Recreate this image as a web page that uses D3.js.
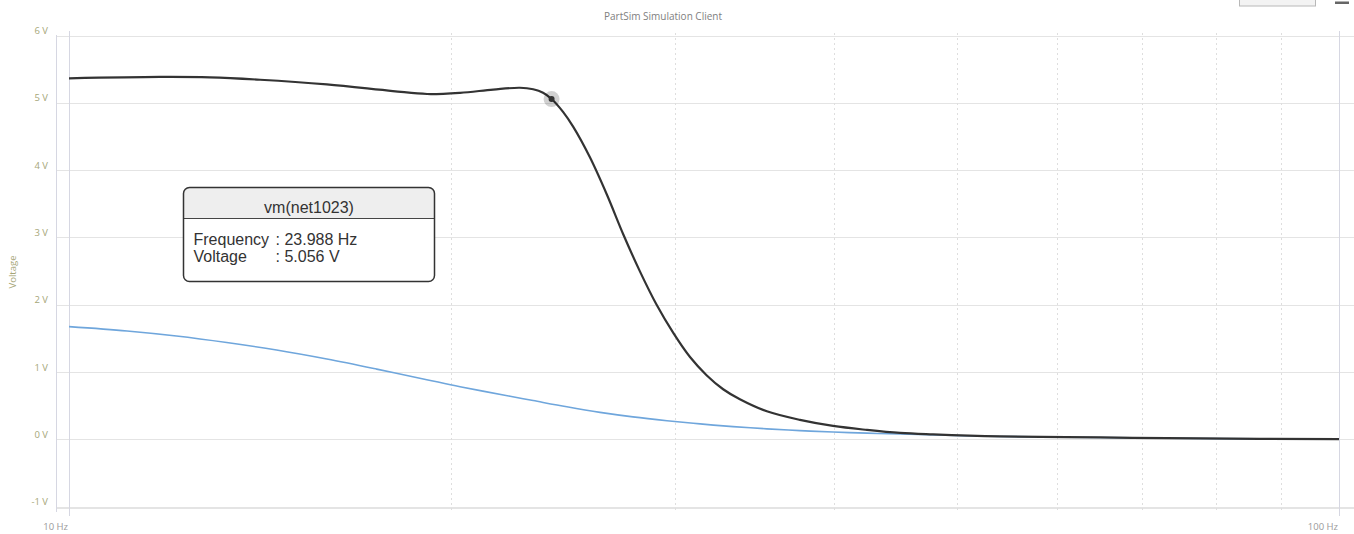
<!DOCTYPE html>
<html>
<head>
<meta charset="utf-8">
<script src="https://cdn.jsdelivr.net/npm/d3@7"></script>
<style>
  html, body { margin: 0; padding: 0; background: #ffffff; }
  svg { display: block; }
</style>
</head>
<body>
<svg id="chart" width="1354" height="534"></svg>
<script>
// ---------------- DATA ----------------
const chartTitle = "PartSim Simulation Client";
const yAxisTitle = "Voltage";

const yTickValues = [-1, 0, 1, 2, 3, 4, 5, 6];
const yTickLabels = ["-1 V", "0 V", "1 V", "2 V", "3 V", "4 V", "5 V", "6 V"];

const xMajorValues = [10, 100];
const xMajorLabels = ["10 Hz", "100 Hz"];
const xMinorValues = [20, 30, 40, 50, 60, 70, 80, 90];

// vm(net1023) – dark curve
const netFreq = [10, 11.79, 12.91, 14.14, 15.96, 17.99, 19.14, 20.32, 21.58, 22.65, 23.20, 23.62, 23.988,
  24.50, 24.95, 25.72, 26.51, 27.32, 28.16, 29.02, 29.91, 30.83, 31.77, 32.74, 33.75, 35.44,
  37.63, 39.96, 42.50, 45.12, 47.90, 54.08, 64.84, 77.74, 100];
const netVolt = [5.363, 5.384, 5.378, 5.343, 5.273, 5.175, 5.131, 5.149, 5.197, 5.224, 5.201, 5.149, 5.056,
  4.861, 4.642, 4.187, 3.642, 3.045, 2.493, 2.000, 1.582, 1.224, 0.955, 0.746, 0.597, 0.418,
  0.291, 0.201, 0.142, 0.097, 0.075, 0.045, 0.030, 0.015, 0.004];

// second trace – blue curve
const blueFreq = [10, 11.11, 12.15, 13.31, 14.57, 15.96, 17.47, 19.13, 20.32, 22.25, 23.20, 24.66,
  26.19, 27.80, 29.57, 31.40, 33.33, 35.44, 37.63, 39.96, 42.50, 45.12, 54.08, 64.84, 77.74, 100];
const blueVolt = [1.676, 1.612, 1.537, 1.440, 1.328, 1.194, 1.045, 0.888, 0.784, 0.642, 0.578, 0.485,
  0.403, 0.336, 0.279, 0.231, 0.191, 0.158, 0.131, 0.110, 0.094, 0.081, 0.045, 0.029, 0.014, 0.003];

// tooltip
const tipTitle = "vm(net1023)";
const tipFreq = 23.988;
const tipVolt = 5.056;
const tipRows = [["Frequency", ": 23.988 Hz"], ["Voltage", ": 5.056 V"]];

// ---------------- CHART ----------------
const svg = d3.select("#chart");
const x = d3.scaleLog().domain([10, 100]).range([69, 1339]);
const y = d3.scaleLinear().domain([-1, 6]).range([506.8, 35.5]);

const gridColor = "#e4e4e4";
const axisColor = "#d6d7e2";
const labelOlive = "#a6a678";

// title
svg.append("text")
  .attr("x", 663).attr("y", 19.5)
  .attr("text-anchor", "middle")
  .attr("font-family", "'Open Sans', sans-serif")
  .attr("font-size", 10)
  .attr("fill", "#808080")
  .text(chartTitle);

// top-right UI remnants
svg.append("rect").attr("x", 1239.5).attr("y", -4).attr("width", 76).attr("height", 10)
  .attr("fill", "#f3f3f3").attr("stroke", "#b8b8b8");
svg.append("rect").attr("x", 1335).attr("y", 1.5).attr("width", 14).attr("height", 2.5)
  .attr("fill", "#666");

// horizontal gridlines
svg.append("g").selectAll("line").data(yTickValues).join("line")
  .attr("x1", 56).attr("x2", 1354)
  .attr("y1", d => Math.round(y(d)) + 0.5).attr("y2", d => Math.round(y(d)) + 0.5)
  .attr("stroke", gridColor).attr("stroke-width", 1);

// bottom border
svg.append("line").attr("x1", 56).attr("x2", 1354).attr("y1", 508.5).attr("y2", 508.5)
  .attr("stroke", gridColor);

// vertical minor gridlines (dashed)
svg.append("g").selectAll("line").data(xMinorValues).join("line")
  .attr("x1", d => Math.round(x(d)) + 0.5).attr("x2", d => Math.round(x(d)) + 0.5)
  .attr("y1", 33).attr("y2", 512)
  .attr("stroke", "#dedede").attr("stroke-dasharray", "2,3");

// left frame line
svg.append("line").attr("x1", 56.5).attr("x2", 56.5).attr("y1", 35).attr("y2", 512)
  .attr("stroke", axisColor);

// major vertical lines
svg.append("g").selectAll("line").data(xMajorValues).join("line")
  .attr("x1", d => Math.round(x(d)) + 0.5).attr("x2", d => Math.round(x(d)) + 0.5)
  .attr("y1", 31).attr("y2", 516)
  .attr("stroke", axisColor);

// y labels
svg.append("g").selectAll("text").data(yTickValues).join("text")
  .attr("x", 48).attr("y", d => y(d) - 1.5)
  .attr("text-anchor", "end")
  .attr("font-family", "'Open Sans', sans-serif")
  .attr("font-size", 9.5)
  .attr("fill", labelOlive)
  .text((d, i) => yTickLabels[i]);

// y axis title
svg.append("text")
  .attr("transform", "translate(16,272) rotate(-90)")
  .attr("text-anchor", "middle")
  .attr("font-family", "'Open Sans', sans-serif")
  .attr("font-size", 9.5)
  .attr("fill", labelOlive)
  .text(yAxisTitle);

// x labels
svg.append("g").selectAll("text").data(xMajorValues).join("text")
  .attr("x", d => x(d) - 1).attr("y", 530)
  .attr("text-anchor", "end")
  .attr("font-family", "'Open Sans', sans-serif")
  .attr("font-size", 9.5)
  .attr("fill", "#9a9a9a")
  .text((d, i) => xMajorLabels[i]);

// curves
const line = d3.line()
  .x(d => x(d[0]))
  .y(d => y(d[1]))
  .curve(d3.curveCatmullRom.alpha(0.5));

svg.append("path")
  .datum(blueFreq.map((f, i) => [f, blueVolt[i]]))
  .attr("d", line)
  .attr("fill", "none")
  .attr("stroke", "#6fa6dc")
  .attr("stroke-width", 1.6);

svg.append("path")
  .datum(netFreq.map((f, i) => [f, netVolt[i]]))
  .attr("d", line)
  .attr("fill", "none")
  .attr("stroke", "#333333")
  .attr("stroke-width", 2.2);

// hover marker
svg.append("circle").attr("cx", x(tipFreq)).attr("cy", y(tipVolt)).attr("r", 8)
  .attr("fill", "rgba(0,0,0,0.18)");
svg.append("circle").attr("cx", x(tipFreq)).attr("cy", y(tipVolt)).attr("r", 3)
  .attr("fill", "#333");

// tooltip
const tip = svg.append("g").attr("transform", "translate(183.5,187.5)");
const tw = 251, th = 94;
tip.append("clipPath").attr("id", "tipclip")
  .append("rect").attr("width", tw).attr("height", th).attr("rx", 6);
tip.append("rect").attr("width", tw).attr("height", th).attr("rx", 6)
  .attr("fill", "#ffffff");
tip.append("rect").attr("width", tw).attr("height", 31)
  .attr("fill", "#eeeeee").attr("clip-path", "url(#tipclip)");
tip.append("line").attr("x1", 0).attr("x2", tw).attr("y1", 31).attr("y2", 31)
  .attr("stroke", "#444").attr("stroke-width", 1);
tip.append("rect").attr("width", tw).attr("height", th).attr("rx", 6)
  .attr("fill", "none").attr("stroke", "#333").attr("stroke-width", 1.5);
tip.append("text").attr("x", tw / 2).attr("y", 25)
  .attr("text-anchor", "middle")
  .attr("font-family", "'Liberation Sans', Arial, sans-serif")
  .attr("font-size", 16).attr("fill", "#333")
  .text(tipTitle);
tipRows.forEach((r, i) => {
  const ty = 57 + i * 17;
  tip.append("text").attr("x", 10).attr("y", ty)
    .attr("font-family", "'Liberation Sans', Arial, sans-serif")
    .attr("font-size", 16).attr("fill", "#333").text(r[0]);
  tip.append("text").attr("x", 92).attr("y", ty)
    .attr("font-family", "'Liberation Sans', Arial, sans-serif")
    .attr("font-size", 16).attr("fill", "#333").text(r[1]);
});
</script>
</body>
</html>
